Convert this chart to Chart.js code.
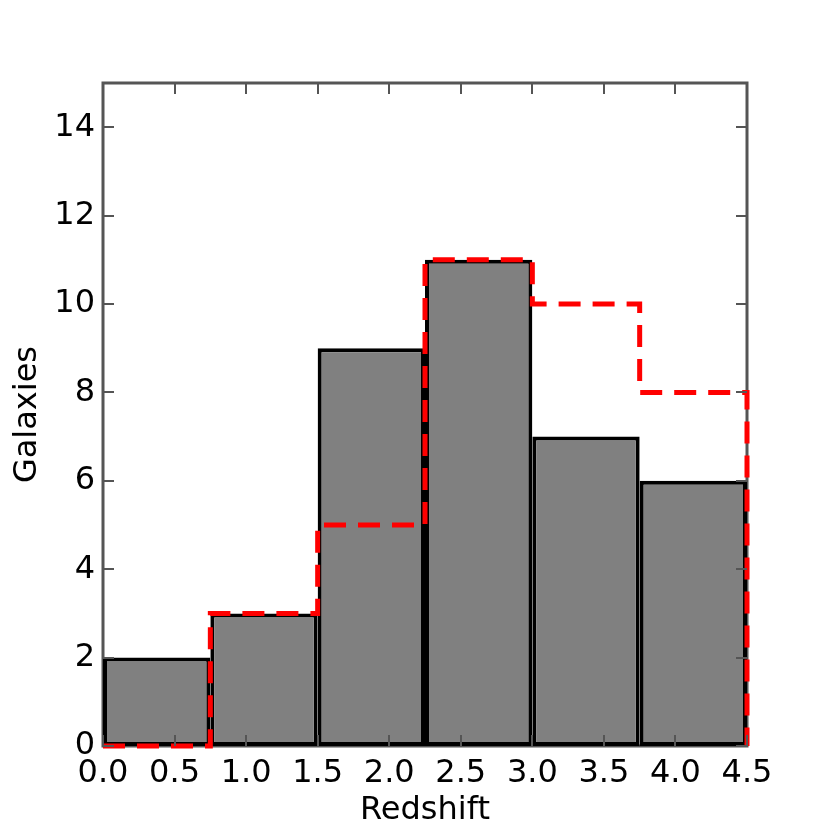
<!DOCTYPE html>
<html>
<head>
<meta charset="utf-8">
<script src="https://cdn.jsdelivr.net/npm/chart.js@4"></script>
<style>
    html, body { margin: 0; padding: 0; background: #fff; }
</style>
</head>
<body>
<canvas id="histChart" width="830" height="830"></canvas>
<script>
// histogram bins (redshift)
var binEdges = [0, 0.75, 1.5, 2.25, 3.0, 3.75, 4.5];
var allCounts = [2, 3, 9, 11, 7, 6];
var dashedCounts = [0, 3, 5, 11, 10, 8];
var xTicks = [0, 0.5, 1.0, 1.5, 2.0, 2.5, 3.0, 3.5, 4.0, 4.5];
var yTicks = [0, 2, 4, 6, 8, 10, 12, 14];

var barPoints = allCounts.map(function (c, i) {
    return { x: (binEdges[i] + binEdges[i + 1]) / 2, y: c };
});

var stepPoints = dashedCounts.map(function (c, i) {
    return { x: binEdges[i], y: c };
});
stepPoints.push({ x: binEdges[binEdges.length - 1], y: dashedCounts[dashedCounts.length - 1] });
stepPoints.push({ x: binEdges[binEdges.length - 1], y: 0 });

// chart.js sizes bars off the tick spacing on a linear axis, so scale up to a full bin
var barPct = (binEdges[1] - binEdges[0]) / (xTicks[1] - xTicks[0]);

var fontFamily = "'DejaVu Sans', sans-serif";

var framePlugin = {
    id: 'frame',
    beforeDatasetsDraw: function (chart) {
        var a = chart.chartArea, ctx = chart.ctx;
        ctx.save();
        ctx.strokeStyle = '#555';
        ctx.lineWidth = 3;
        ctx.strokeRect(a.left, a.top, a.right - a.left, a.bottom - a.top);
        ctx.restore();
    },
    afterDatasetsDraw: function (chart) {
        var a = chart.chartArea, ctx = chart.ctx;
        var xs = chart.scales.x, ys = chart.scales.y;
        var len = 11;
        ctx.save();
        ctx.strokeStyle = '#555';
        ctx.lineWidth = 2;
        ctx.beginPath();
        xTicks.forEach(function (v) {
            var px = Math.round(xs.getPixelForValue(v));
            ctx.moveTo(px, a.bottom); ctx.lineTo(px, a.bottom - len);
            ctx.moveTo(px, a.top); ctx.lineTo(px, a.top + len);
        });
        yTicks.forEach(function (v) {
            var py = Math.round(ys.getPixelForValue(v));
            ctx.moveTo(a.left, py); ctx.lineTo(a.left + len, py);
            ctx.moveTo(a.right, py); ctx.lineTo(a.right - len, py);
        });
        ctx.stroke();
        ctx.restore();
    }
};

var chart = new Chart(document.getElementById('histChart'), {
    type: 'bar',
    data: {
        datasets: [{
            type: 'line',
            data: stepPoints,
            stepped: 'before',
            borderColor: '#ff0000',
            borderWidth: 5,
            borderDash: [22, 12],
            pointRadius: 0,
            fill: false,
            clip: false,
            order: 1
        }, {
            type: 'bar',
            data: barPoints,
            backgroundColor: '#808080',
            borderColor: '#000000',
            borderWidth: 4,
            borderSkipped: false,
            inflateAmount: 0,
            barPercentage: barPct,
            categoryPercentage: 1,
            order: 2
        }]
    },
    options: {
        responsive: false,
        animation: false,
        devicePixelRatio: 1,
        layout: {
            padding: { top: 83, right: 83, left: 0, bottom: 0 }
        },
        plugins: {
            legend: { display: false },
            tooltip: { enabled: false }
        },
        scales: {
            x: {
                type: 'linear',
                min: 0,
                max: 4.5,
                offset: false,
                grid: { display: false, drawTicks: false },
                border: { display: false },
                afterFit: function (s) { s.height = 84; },
                afterBuildTicks: function (s) {
                    s.ticks = xTicks.map(function (v) { return { value: v }; });
                },
                ticks: {
                    padding: 8,
                    color: '#000',
                    font: { family: fontFamily, size: 32 },
                    callback: function (v) { return Number(v).toFixed(1); }
                },
                title: {
                    display: true,
                    text: 'Redshift',
                    color: '#000',
                    padding: 0,
                    font: { family: fontFamily, size: 32 }
                }
            },
            y: {
                min: 0,
                max: 15,
                grid: { display: false, drawTicks: false },
                border: { display: false },
                afterFit: function (s) { s.width = 103; },
                afterBuildTicks: function (s) {
                    s.ticks = yTicks.map(function (v) { return { value: v }; });
                },
                ticks: {
                    padding: 8,
                    color: '#000',
                    font: { family: fontFamily, size: 32 }
                },
                title: {
                    display: true,
                    text: 'Galaxies',
                    color: '#000',
                    padding: { top: 8, bottom: 0 },
                    font: { family: fontFamily, size: 32 }
                }
            }
        }
    },
    plugins: [framePlugin]
});
</script>
</body>
</html>
